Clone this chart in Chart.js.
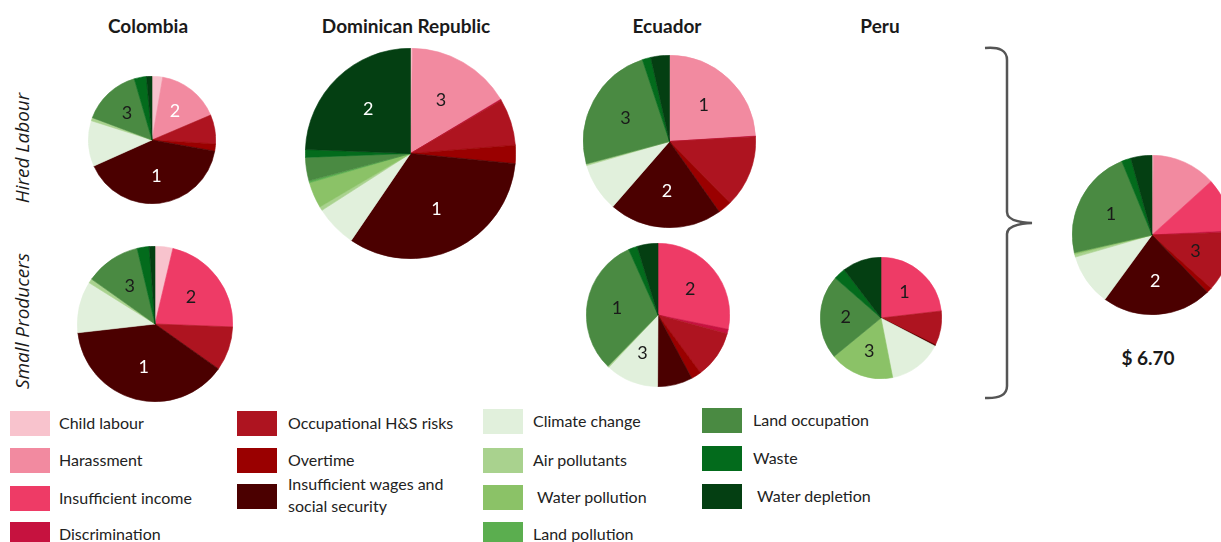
<!DOCTYPE html>
<html><head><meta charset="utf-8">
<script src="https://cdn.jsdelivr.net/npm/chart.js@4.4.1/dist/chart.umd.min.js"></script>
<style>
html,body{margin:0;padding:0;background:#fff;width:1221px;height:542px;overflow:hidden;position:relative;font-family:Lato,"Open Sans",sans-serif;color:#1a1a1a}
canvas{position:absolute}
.t{position:absolute;transform:translate(-50%,-50%);white-space:nowrap}
.title{font-weight:bold;font-size:19px}
.ylab{font-family:"Open Sans",sans-serif;font-style:italic;font-size:19px;transform:translate(-50%,-50%) rotate(-90deg)}
.lg{position:absolute;font-size:16px;line-height:22px;white-space:nowrap;color:#222}
.sw{position:absolute;width:40px;height:25px}
</style></head><body>
<script>
// ---- data ----
const categories = ["Child labour","Harassment","Insufficient income","Discrimination","Occupational H&S risks","Overtime","Insufficient wages and social security","Climate change","Air pollutants","Water pollution","Land pollution","Land occupation","Waste","Water depletion"];
const columnTitles = ["Colombia","Dominican Republic","Ecuador","Peru"];
const rowTitles = ["Hired Labour","Small Producers"];
const totalLabel = "$ 6.70";
//                       CL    Har   Inc   Dis   OHS   Over  Wage  Clim  Air  WPol LPol  LOcc  Wst  WDep
const colombiaHired   = [2.7, 15.9, 0,    0,    7.4,  1.8,  40.5, 11.6, 0.8, 0,   0,    14.8, 3.1, 1.4];
const colombiaSmall   = [3.7, 0,    21.9, 0,    9.2,  0,    38.4, 10.7, 0.9, 0,   0,    11.5, 2.5, 1.2];
const dominicanHired  = [0.3, 16.1, 0,    0.15, 7.2,  2.8,  33.0, 6.4,  0.6, 4.0, 0.3,  3.6,  1.2, 24.4];
const ecuadorHired    = [0,   24.0, 0,    0.1,  13.5, 2.6,  21.2, 9.1,  0.3, 0,   0,    24.1, 1.6, 3.5];
const ecuadorSmall    = [0,   0,    28.2, 1.0,  10.7, 2.3,  7.9,  11.9, 0.3, 0,   0,    31.0, 2.0, 4.7];
const peruSmall       = [0,   0,    23.2, 0,    9.1,  0.1,  0.3,  14.3, 0,   17.2,0,    22.4, 3.2, 10.4];
const totalAll        = [0.3, 13.0, 10.9, 0.3,  12.2, 1.1,  22.3, 10.5, 0.6, 0.3, 0,    22.4, 1.9, 4.3];
// ranks (1-3) shown inside slices
const colombiaHiredRanks  = ["","2","","","","","1","","","","","3","",""];
const colombiaSmallRanks  = ["","","2","","","","1","","","","","3","",""];
const dominicanHiredRanks = ["","3","","","","","1","","","","","","","2"];
const ecuadorHiredRanks   = ["","1","","","","","2","","","","","3","",""];
const ecuadorSmallRanks   = ["","","2","","","","","3","","","","1","",""];
const peruSmallRanks      = ["","","1","","","","","","","3","","2","",""];
const totalAllRanks       = ["","","","","3","","2","","","","","1","",""];

// ---- styles ----
const colors = ["#F8C3CD","#F28AA0","#EE3B66","#C6123F","#AE1420","#9A0000","#4B0000","#E1F0DC","#A9D28E","#8BC267","#5BAE4F","#4A8A42","#036B1C","#043F12"];
const pies = [
  {values: colombiaHired,  ranks: colombiaHiredRanks,  cx:151.5, cy:139.5, r:63,  light:[1,6]},
  {values: colombiaSmall,  ranks: colombiaSmallRanks,  cx:155,   cy:324,   r:77,  light:[6]},
  {values: dominicanHired, ranks: dominicanHiredRanks, cx:410,   cy:153,   r:104.5, light:[6,13]},
  {values: ecuadorHired,   ranks: ecuadorHiredRanks,   cx:669,   cy:141,   r:85.5, light:[6]},
  {values: ecuadorSmall,   ranks: ecuadorSmallRanks,   cx:657.5, cy:314.5, r:71,  light:[]},
  {values: peruSmall,      ranks: peruSmallRanks,      cx:880.7, cy:318.3, r:60,  light:[]},
  {values: totalAll,       ranks: totalAllRanks,       cx:1151.7,cy:235,   r:79,  light:[6]}
];

const rankPlugin = {
  id:'ranks',
  afterDatasetsDraw(chart, args, opts){
    const ctx = chart.ctx;
    const meta = chart.getDatasetMeta(0);
    ctx.save();
    ctx.font = '18px Lato, "Open Sans", sans-serif';
    ctx.textAlign='center'; ctx.textBaseline='middle';
    meta.data.forEach((arc,i)=>{
      const lbl = opts.ranks[i];
      if(!lbl) return;
      const p = arc.getProps(['x','y','startAngle','endAngle','outerRadius'], true);
      const mid = (p.startAngle+p.endAngle)/2;
      const rr = p.outerRadius*0.58;
      ctx.fillStyle = opts.light.includes(i) ? '#ffffff' : '#1a1a1a';
      ctx.fillText(lbl, p.x+Math.cos(mid)*rr, p.y+Math.sin(mid)*rr);
    });
    ctx.restore();
  }
};

pies.forEach(pc=>{
  const c = document.createElement('canvas');
  const size = Math.round(2*pc.r+2);
  c.width=size; c.height=size;
  c.style.width=size+'px'; c.style.height=size+'px';
  c.style.left=(pc.cx-size/2)+'px'; c.style.top=(pc.cy-size/2)+'px';
  document.body.appendChild(c);
  new Chart(c,{
    type:'pie',
    data:{labels:categories,datasets:[{data:pc.values,backgroundColor:colors,borderColor:colors,borderWidth:0.6}]},
    options:{responsive:false,animation:false,layout:{padding:0},
      plugins:{legend:{display:false},tooltip:{enabled:false},ranks:{ranks:pc.ranks,light:pc.light}}},
    plugins:[rankPlugin]
  });
});

function txt(s,cls,x,y){const d=document.createElement('div');d.className='t '+cls;d.textContent=s;d.style.left=x+'px';d.style.top=y+'px';document.body.appendChild(d);return d;}
const titleX=[148,406,667,880];
columnTitles.forEach((s,i)=>txt(s,'title',titleX[i],25));
txt(rowTitles[0],'ylab',22,148);
txt(rowTitles[1],'ylab',22,321);
txt(totalLabel,'title',1148,357);

// legend
const legendPos = [
  [10,423],[10,460],[10,498],[10,534],
  [237,423],[237,460],[237,496],
  [483,421],[483,460],[483,497],[483,534],
  [702,420],[702,458],[702,496]
];
const textOff = [49,49,49,49,51,51,51,50,50,54,50,51,51,55];
categories.forEach((cat,i)=>{
  const [x,y]=legendPos[i];
  const sw=document.createElement('div');sw.className='sw';sw.style.background=colors[i];
  sw.style.left=x+'px';sw.style.top=(y-12.5)+'px';document.body.appendChild(sw);
  const t=document.createElement('div');t.className='lg';
  if(i===6){t.innerHTML='Insufficient wages and<br>social security';t.style.top=(y-23)+'px';}
  else{t.textContent=cat;t.style.top=(y-11)+'px';}
  t.style.left=(x+textOff[i])+'px';document.body.appendChild(t);
});
</script>
<svg style="position:absolute;left:0;top:0" width="1221" height="542">
<path d="M985,48 Q1007,46 1007,60 L1007,212 Q1007,222 1032,223 Q1007,224 1007,234 L1007,386 Q1007,399 985,398" fill="none" stroke="#555" stroke-width="2.5"/>
</svg>
</body></html>
